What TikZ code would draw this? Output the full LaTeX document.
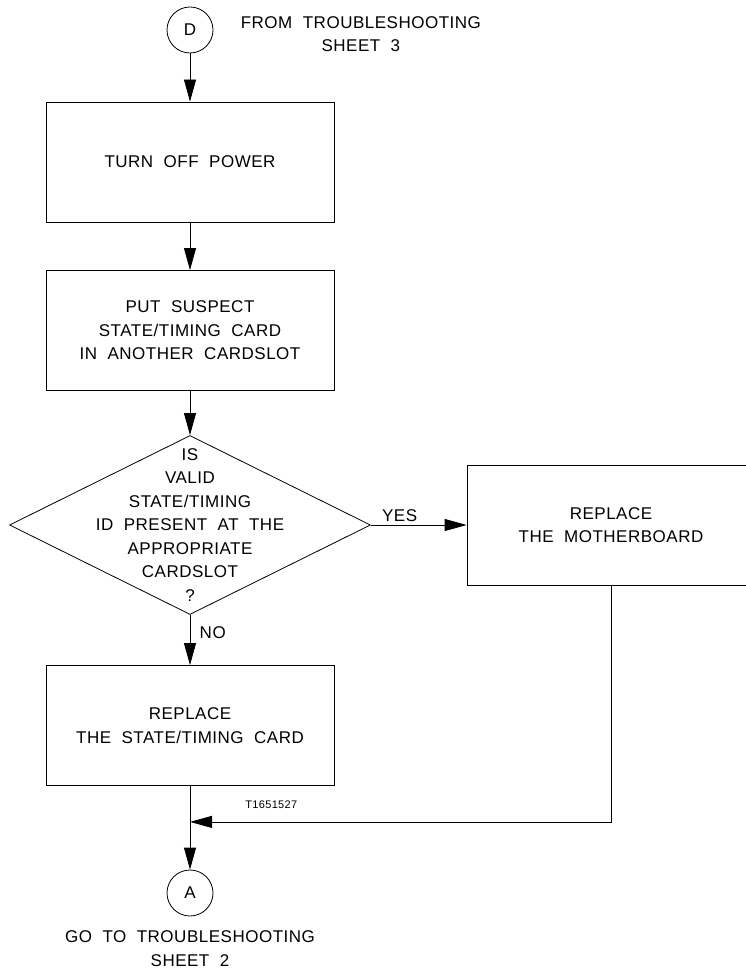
\documentclass[tikz,border=0pt]{standalone}
\usepackage{fontspec}
\setmainfont{Liberation Sans}[LetterSpace=3,WordSpace=2]
\usetikzlibrary{shapes.geometric,arrows.meta,positioning}
\tikzset{
  stepbox/.style={draw, minimum width=288pt, minimum height=120pt, align=center},
  decision/.style={draw, diamond, aspect=2, minimum width=361pt, minimum height=179pt, inner sep=0pt},
  sheet/.style={draw, circle, minimum size=46pt, inner sep=0pt},
  note/.style={align=center, inner sep=0pt}
}
\begin{document}
\begin{tikzpicture}[font=\fontsize{17}{23.5}\selectfont, line width=0.8pt, >={Triangle[length=22pt,width=12pt]}]
\useasboundingbox (0,0) rectangle (745pt,-973pt);
\node[sheet] (d) at (190pt,-30pt) {D};
\node[note, right=27pt of d, yshift=-4pt] (from) {FROM TROUBLESHOOTING\\SHEET 3};
\node[stepbox, node distance=132pt, below of=d] (off) {TURN OFF POWER};
\node[stepbox, node distance=168.5pt, below of=off] (move) {PUT SUSPECT\\STATE/TIMING CARD\\IN ANOTHER CARDSLOT};
\node[decision, node distance=194.5pt, below of=move] (q) {};
\node[note] (qtext) at (q) {IS\\VALID\\STATE/TIMING\\ID PRESENT AT THE\\APPROPRIATE\\CARDSLOT\\?};
\node[stepbox, node distance=421pt, right of=q] (mb) {REPLACE\\THE MOTHERBOARD};
\node[stepbox, node distance=200.5pt, below of=q] (card) {REPLACE\\THE STATE/TIMING CARD};
\node[sheet, node distance=167.5pt, below of=card] (a) {A};
\node[note, below=14pt of a] (goto) {GO TO TROUBLESHOOTING\\SHEET 2};

\draw[->] (d) -- (off);
\draw[->] (off) -- (move);
\draw[->] (move) -- (q);
\draw[->] (q) -- node[above, pos=0.3] (yes) {YES} (mb);
\draw[->] (q) -- node[right, pos=0.35, xshift=6pt] (no) {NO} (card);
\path (card.south) -- (a.north) coordinate[pos=0.43] (join);
\draw[->] (card) -- (a);
\draw[->] (mb) |- (join);
\node[note, font=\fontsize{11}{13}\selectfont, anchor=south west] (tag) at ([xshift=55pt,yshift=13pt]join) {T1651527};
\end{tikzpicture}
\end{document}
